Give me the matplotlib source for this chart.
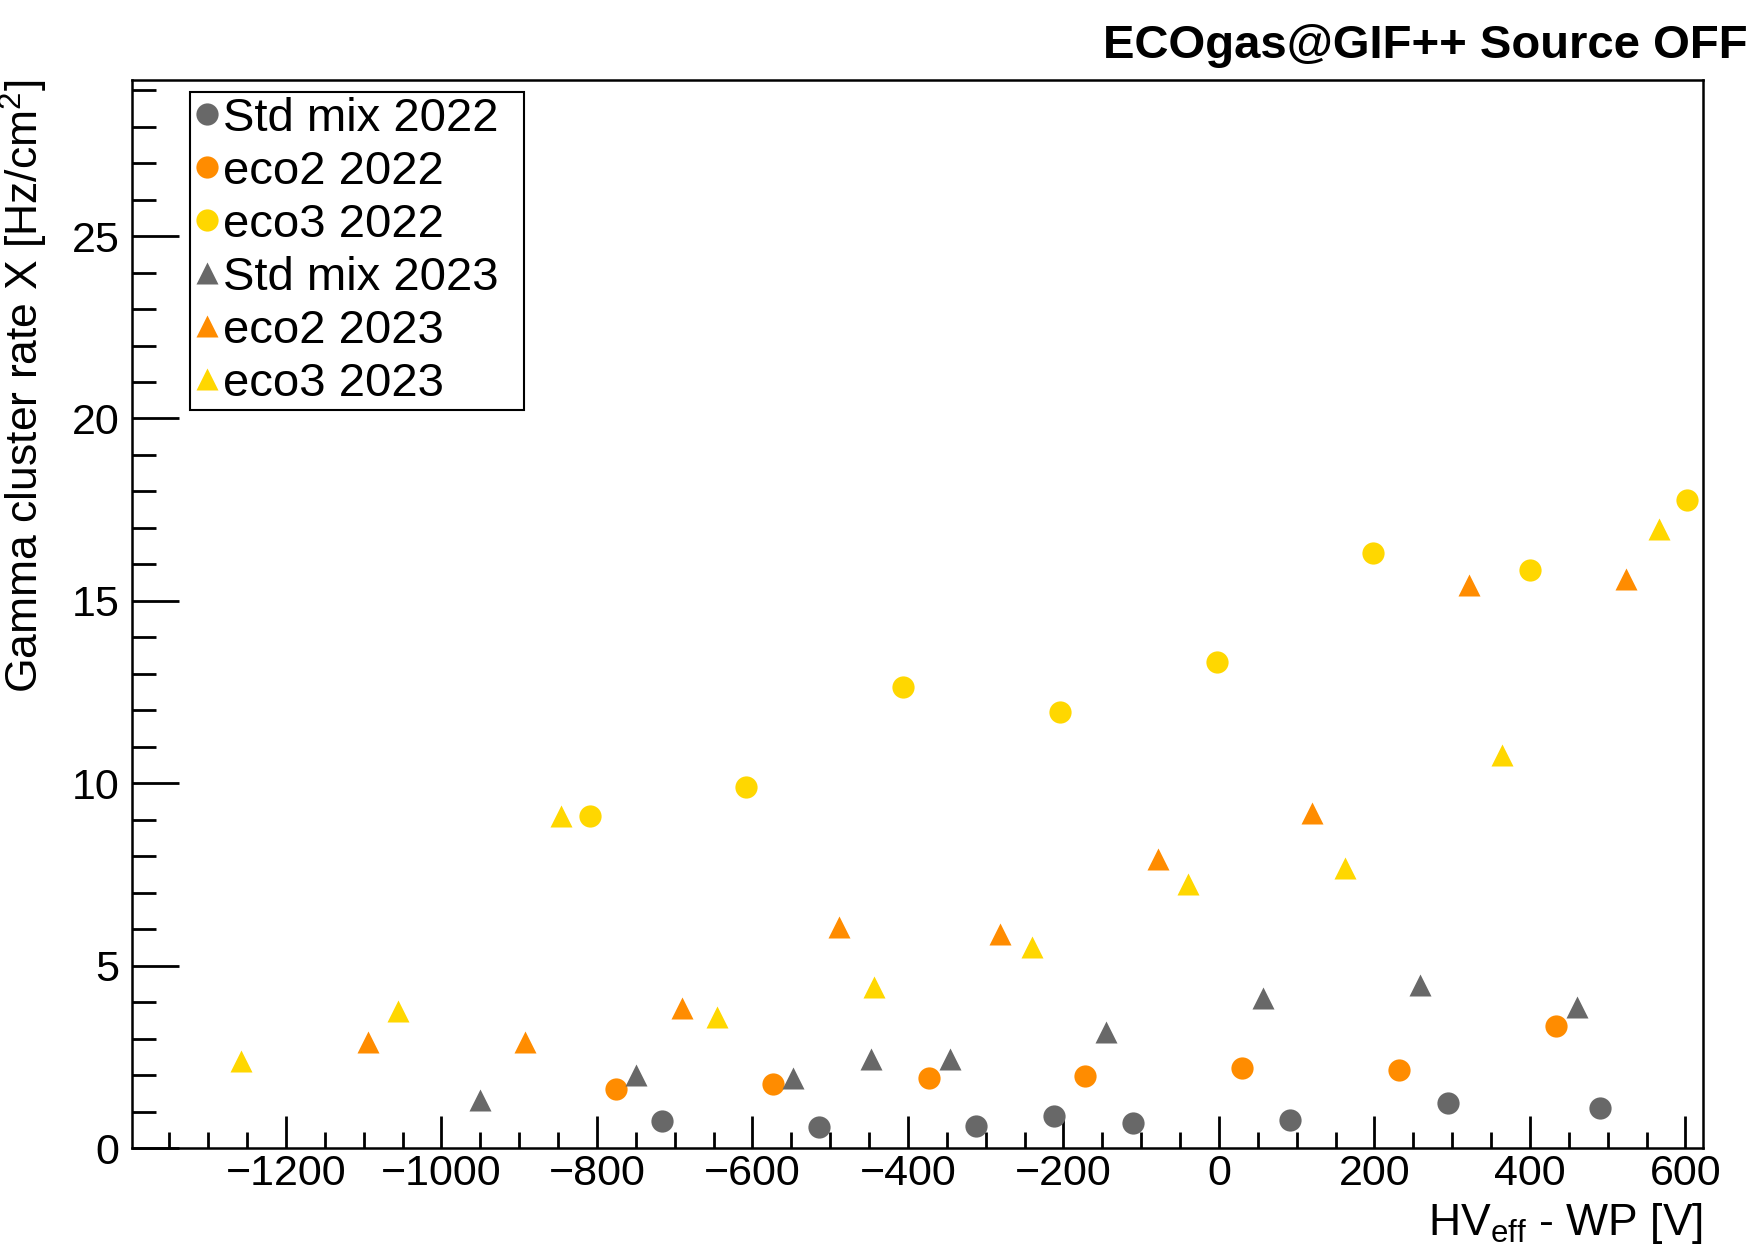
import matplotlib
matplotlib.use("Agg")
import matplotlib.pyplot as plt
from matplotlib.ticker import MultipleLocator

plt.rcParams['font.family'] = ['Liberation Sans', 'DejaVu Sans']
plt.rcParams['mathtext.default'] = 'regular'
plt.rcParams['axes.unicode_minus'] = True

# HV_eff - WP [V] and gamma cluster rate [Hz/cm^2] for each gas mixture
std22_x = [-716, -514, -312, -212, -111, 91, 294, 490]
std22_y = [0.74, 0.59, 0.61, 0.89, 0.70, 0.78, 1.23, 1.10]

eco2_22_x = [-775, -574, -373, -172, 30, 232, 433]
eco2_22_y = [1.63, 1.77, 1.92, 1.99, 2.20, 2.15, 3.35]

eco3_22_x = [-809, -608, -406, -205, -3, 198, 400, 602]
eco3_22_y = [9.11, 9.89, 12.63, 11.96, 13.34, 16.31, 15.84, 17.77]

std23_x = [-951, -750, -548, -447, -346, -145, 57, 259, 461]
std23_y = [1.32, 2.01, 1.94, 2.46, 2.46, 3.20, 4.12, 4.48, 3.86]

eco2_23_x = [-1094, -893, -690, -489, -281, -79, 120, 322, 524]
eco2_23_y = [2.90, 2.92, 3.84, 6.06, 5.87, 7.93, 9.18, 15.44, 15.60]

eco3_23_x = [-1258, -1056, -846, -646, -444, -241, -40, 162, 364, 566]
eco3_23_y = [2.40, 3.77, 9.11, 3.61, 4.43, 5.51, 7.23, 7.68, 10.78, 16.98]

GREY = '#686868'
ORANGE = '#ff8c00'
YELLOW = '#ffd700'

W, H = 1755, 1247
fig = plt.figure(figsize=(W / 100, H / 100), dpi=100)
ax = fig.add_axes([132 / W, 1 - 1148.3 / H, (1703.3 - 132) / W, (1148.3 - 79.5) / H])

ms = 16
series = [
    (std22_x, std22_y, 'o', GREY, 'Std mix 2022'),
    (eco2_22_x, eco2_22_y, 'o', ORANGE, 'eco2 2022'),
    (eco3_22_x, eco3_22_y, 'o', YELLOW, 'eco3 2022'),
    (std23_x, std23_y, '^', GREY, 'Std mix 2023'),
    (eco2_23_x, eco2_23_y, '^', ORANGE, 'eco2 2023'),
    (eco3_23_x, eco3_23_y, '^', YELLOW, 'eco3 2023'),
]
for x, y, m, c, lab in series:
    ax.plot(x, y, ls='none', marker=m, ms=ms, color=c, mec='none', label=lab)

ax.set_xlim(-1398, 623)
ax.set_ylim(0, 29.29)

ax.xaxis.set_major_locator(MultipleLocator(200))
ax.xaxis.set_minor_locator(MultipleLocator(50))
ax.yaxis.set_major_locator(MultipleLocator(5))
ax.yaxis.set_minor_locator(MultipleLocator(1))

ax.tick_params(axis='both', which='both', direction='in', width=2,
               top=False, right=False, labelsize=31)
ax.tick_params(axis='x', which='major', length=23, pad=4)
ax.tick_params(axis='x', which='minor', length=11.5)
ax.tick_params(axis='y', which='major', length=34, pad=9)
ax.tick_params(axis='y', which='minor', length=17)

for sp in ax.spines.values():
    sp.set_linewidth(1.8)

# axis titles, ROOT style: right/top justified
ax.set_xlabel('HV$_{eff}$ - WP [V]', fontsize=32, ha='right', va='top')
ax.xaxis.set_label_coords(1.0, -0.049)
ax.set_ylabel('Gamma cluster rate X [Hz/cm$^{2}$]', fontsize=32,
              ha='right', va='center')
ax.yaxis.set_label_coords(-0.0685, 1.0)

fig.text(1748 / W, 1 - 58 / H, 'ECOgas@GIF++ Source OFF', fontsize=34,
         fontweight='bold', ha='right', va='baseline')

leg = ax.legend(loc='upper left',
                bbox_to_anchor=(190 / W, 1 - 413 / H, 334 / W, 321 / H),
                bbox_transform=fig.transFigure, mode='expand',
                fontsize=34, frameon=True, fancybox=False,
                edgecolor='black', framealpha=1,
                borderpad=0.1, handlelength=0.5, handletextpad=0.1,
                labelspacing=0.19, borderaxespad=0)
leg.get_frame().set_linewidth(1.5)

fig.savefig('out.png', dpi=100)
